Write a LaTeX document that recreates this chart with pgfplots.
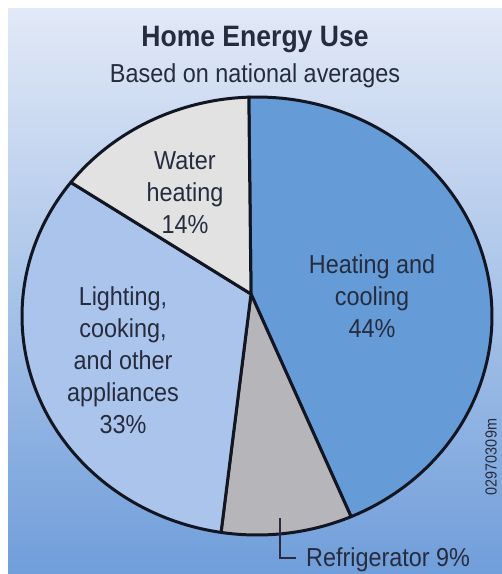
\documentclass[border=0pt]{standalone}
\usepackage{fontspec}
\setmainfont{Liberation Sans}
\newfontfamily\condfont[FakeStretch=0.9]{Liberation Sans}
\usepackage{pgfplots}
\pgfplotsset{compat=1.18}
\definecolor{bgtop}{RGB}{226,233,247}
\definecolor{bgbot}{RGB}{112,158,218}
\definecolor{heat}{RGB}{101,156,216}
\definecolor{lightc}{RGB}{170,196,236}
\definecolor{water}{RGB}{226,226,226}
\definecolor{fridge}{RGB}{182,181,186}
\definecolor{txt}{RGB}{38,44,62}
\definecolor{edge}{RGB}{18,22,34}
\tikzset{lbl/.style={font=\condfont\fontsize{26}{30}\selectfont,text=txt,anchor=base,inner sep=0pt}}
% shares (percent)
\def\pHeat{44}
\def\pFridge{9}
\def\pLight{33}
\def\pWater{14}
\begin{document}
\begin{tikzpicture}
\pgfmathsetmacro\aA{92}
\pgfmathsetmacro\aB{\aA-3.6*\pHeat}
\pgfmathsetmacro\aC{\aB-3.6*\pFridge}
\pgfmathsetmacro\aD{\aC-3.6*\pLight}
\pgfmathsetmacro\aE{\aD-3.6*\pWater}
\begin{axis}[width=502pt,height=574pt,scale only axis,
  xmin=0,xmax=502,ymin=0,ymax=574,y dir=reverse,hide axis,clip=false]
% background
\addplot[draw=none,top color=bgtop,bottom color=bgbot] coordinates {(8,8) (502,8) (502,574) (8,574)} -- cycle;
% wedges
\addplot[fill=heat,draw=edge,line width=3pt,line join=round,domain=\aB:\aA,samples=120]
  ({257+235*cos(x)},{316-219*sin(x)}) -- (axis cs:251,294) -- cycle;
\addplot[fill=fridge,draw=edge,line width=3pt,line join=round,domain=\aC:\aB,samples=40]
  ({257+235*cos(x)},{316-219*sin(x)}) -- (axis cs:251,294) -- cycle;
\addplot[fill=lightc,draw=edge,line width=3pt,line join=round,domain=\aD:\aC,samples=100]
  ({257+235*cos(x)},{316-219*sin(x)}) -- (axis cs:251,294) -- cycle;
\addplot[fill=water,draw=edge,line width=3pt,line join=round,domain=\aE:\aD,samples=50]
  ({257+235*cos(x)},{316-219*sin(x)}) -- (axis cs:251,294) -- cycle;
% leader line
\addplot[txt,line width=1.3pt] coordinates {(280,518) (280,558) (296,558)};
% titles
\node[font=\condfont\fontsize{29.5}{30}\selectfont\bfseries,text=txt,anchor=base,inner sep=0pt] at (axis cs:255,46) {Home Energy Use};
\node[font=\condfont\fontsize{26}{28}\selectfont,text=txt,anchor=base,inner sep=0pt] at (axis cs:255,82) {Based on national averages};
% labels
\node[lbl] at (axis cs:372,273) {Heating and};
\node[lbl] at (axis cs:372,305) {cooling};
\node[lbl] at (axis cs:372,337) {44\%};
\node[lbl] at (axis cs:123,305) {Lighting,};
\node[lbl] at (axis cs:123,337) {cooking,};
\node[lbl] at (axis cs:123,369) {and other};
\node[lbl] at (axis cs:123,401) {appliances};
\node[lbl] at (axis cs:123,433) {33\%};
\node[lbl] at (axis cs:185,169) {Water};
\node[lbl] at (axis cs:185,201) {heating};
\node[lbl] at (axis cs:185,233) {14\%};
\node[lbl,anchor=base west] at (axis cs:306,566) {Refrigerator 9\%};
\node[rotate=90,font=\condfont\fontsize{16}{16}\selectfont,text=txt,inner sep=0pt] at (axis cs:491,457) {02970309m};
\end{axis}
\pgfresetboundingbox
\path (0,0) rectangle (502pt,574pt);
\end{tikzpicture}
\end{document}
